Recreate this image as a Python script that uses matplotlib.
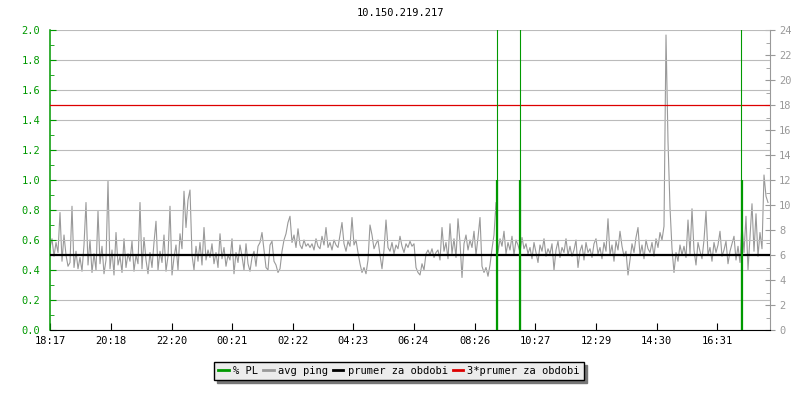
import numpy as np
import matplotlib
matplotlib.use("Agg")
import matplotlib.pyplot as plt
from matplotlib.lines import Line2D

# hodnoty
title = "10.150.219.217"
start_time = "18:17"
tick_labels = ["18:17", "20:18", "22:20", "00:21", "02:22", "04:23",
               "06:24", "08:26", "10:27", "12:29", "14:30", "16:31"]
sample_step = 4  # minuty mezi vzorky

# avg ping [ms], jeden vzorek za 4 minuty
avg_ping = [
    6.6, 7.3, 5.9, 7.0, 6.2, 9.4, 5.5, 7.6, 6.0, 5.1,
    5.4, 9.9, 5.0, 6.3, 4.9, 5.8, 4.7, 6.8, 10.2, 5.2,
    7.2, 4.6, 6.1, 4.8, 9.5, 5.3, 6.7, 4.5, 5.6, 11.9,
    4.9, 6.4, 4.4, 7.8, 5.2, 5.9, 4.6, 7.3, 5.0, 6.1,
    5.5, 7.1, 4.7, 6.0, 5.3, 10.2, 4.9, 7.4, 5.6, 4.5,
    6.2, 5.0, 7.0, 8.7, 4.8, 6.3, 5.4, 7.6, 4.7, 5.9,
    9.9, 4.4, 5.8, 6.8, 4.8, 7.7, 6.5, 11.1, 8.2, 10.4,
    11.2, 6.0, 4.8, 6.7, 5.5, 7.0, 5.2, 8.2, 5.6, 6.4,
    5.8, 6.9, 5.3, 6.2, 5.0, 7.7, 5.7, 6.6, 5.1, 6.0,
    5.6, 7.3, 4.5, 6.2, 5.4, 6.8, 5.9, 4.8, 6.9, 5.3,
    4.7, 5.8, 6.3, 5.1, 6.7, 7.0, 7.8, 6.4, 5.0, 4.8,
    6.8, 7.1, 5.5, 5.2, 4.6, 4.9, 6.3, 7.2, 7.7, 8.6,
    9.1, 7.0, 7.6, 6.6, 8.1, 6.8, 6.5, 7.2, 6.7, 6.9,
    6.6, 6.9, 6.4, 7.3, 6.7, 6.5, 7.5, 6.8, 8.2, 6.6,
    7.0, 6.4, 7.2, 6.8, 6.6, 7.6, 8.6, 6.9, 6.3, 7.1,
    6.7, 9.0, 6.8, 7.2, 6.2, 5.3, 4.6, 5.0, 4.5, 5.6,
    8.4, 7.6, 6.5, 6.9, 7.2, 6.0, 4.9, 6.4, 8.8, 6.6,
    6.3, 7.0, 6.1, 6.8, 6.5, 7.5, 6.7, 6.2, 6.9, 6.6,
    7.1, 6.7, 6.9, 5.0, 4.6, 4.4, 5.3, 4.8, 6.1, 6.4,
    6.0, 6.5, 5.8, 6.2, 6.4, 5.6, 8.2, 6.3, 7.0, 5.7,
    8.5, 6.1, 7.3, 5.8, 8.9, 7.0, 4.2, 6.9, 7.6, 6.4,
    7.2, 6.6, 7.9, 6.0, 7.4, 9.0, 5.1, 4.6, 5.0, 4.3,
    5.2, 6.5, 7.6, 10.2, 6.2, 7.3, 6.7, 7.9, 6.1, 7.0,
    6.4, 7.5, 6.0, 7.2, 6.8, 6.2, 7.4, 6.5, 6.9, 6.1,
    6.6, 5.7, 7.0, 6.2, 5.4, 6.8, 6.3, 7.3, 5.9, 6.5,
    6.1, 6.9, 4.8, 6.4, 7.1, 5.8, 6.6, 6.2, 7.3, 6.0,
    6.7, 5.9, 6.4, 7.2, 5.0, 6.3, 6.8, 5.6, 7.0, 6.2,
    6.5, 5.8, 6.9, 7.3, 6.1, 6.6, 5.7, 7.0, 6.3, 8.9,
    6.0, 6.8, 5.5, 7.1, 6.4, 7.9, 6.7, 5.9, 6.3, 4.4,
    5.6, 6.9, 6.2, 7.4, 8.2, 6.0, 6.8, 5.7, 7.2, 6.5,
    6.2, 7.0, 5.9, 7.3, 6.6, 7.8, 7.2, 8.3, 23.6, 15.1,
    9.8, 6.5, 4.6, 6.2, 5.5, 6.8, 6.0, 6.7, 5.8, 8.8,
    6.1, 9.7, 6.4, 5.2, 7.0, 6.3, 5.7, 7.2, 9.5, 6.0,
    6.6, 5.5, 7.0, 6.2, 6.8, 7.9, 5.9, 6.4, 7.1, 5.3,
    6.3, 6.9, 7.5, 5.6, 6.7, 5.4, 8.5, 6.2, 9.1, 4.8,
    7.4, 10.1, 6.3, 9.3, 5.9, 7.8, 6.5, 12.4, 10.7, 10.2,
]

# ztrata paketu
pl_times = ["09:10", "09:56", "17:19"]
pl_level = [1.0, 1.0, 1.0]
pl_peak = [100.0, 100.0, 100.0]

prumer_ms = 6.0
ping_scale = 12.0  # 2.0 na leve ose = 24 ms

GREEN = "#009900"
GREY = "#999999"


def to_minutes(t):
    h, m = map(int, t.split(":"))
    h0, m0 = map(int, start_time.split(":"))
    return ((h * 60 + m) - (h0 * 60 + m0)) % 1440


plt.rcParams["font.family"] = ["DejaVu Sans Mono"]
plt.rcParams["font.size"] = 7.5

fig = plt.figure(figsize=(8, 4), dpi=100)
ax = fig.add_axes([50 / 800, 70 / 400, 720 / 800, 300 / 400])
ax2 = ax.twinx()
ax.set_zorder(ax2.get_zorder() + 1)
ax.patch.set_visible(False)

minutes = np.arange(len(avg_ping)) * sample_step
ax2.plot(minutes, avg_ping, color=GREY, lw=0.8)

ax.axhline(prumer_ms / ping_scale, color="black", lw=1.6, zorder=4)
ax.axhline(3 * prumer_ms / ping_scale, color="#dd0000", lw=0.9, zorder=4)

pl_min = [to_minutes(t) for t in pl_times]
ax.vlines(pl_min, 0, pl_peak, color=GREEN, lw=0.8, zorder=5)
ax.vlines([m + 1 for m in pl_min], 0, pl_level, color=GREEN, lw=1.6, zorder=5)

ax.set_xlim(0, 1440)
ax.set_ylim(0, 2.0)
ax2.set_ylim(0, 24)

ax.set_xticks([to_minutes(t) for t in tick_labels])
ax.set_xticklabels(tick_labels)
ax.set_yticks(np.arange(0, 2.01, 0.2))
ax.set_yticks(np.arange(0, 2.01, 0.1), minor=True)
ax.yaxis.set_major_formatter(matplotlib.ticker.FormatStrFormatter("%.1f"))
ax2.set_yticks(np.arange(0, 25, 2))
ax2.set_yticks(np.arange(0, 25, 1), minor=True)

ax.grid(axis="y", color="#bbbbbb", lw=0.8)
ax.tick_params(axis="y", which="major", direction="in", length=4, color=GREEN,
               labelcolor=GREEN, pad=7, right=False)
ax.tick_params(axis="y", which="minor", direction="in", length=3, color=GREEN, right=False)
ax.tick_params(axis="x", direction="in", length=5, color="black", pad=4, top=False)
ax2.tick_params(axis="y", which="major", direction="inout", length=7, color=GREY,
                labelcolor=GREY, pad=3)
ax2.tick_params(axis="y", which="minor", direction="in", length=3, color=GREY)

for a in (ax, ax2):
    a.spines["top"].set_visible(False)
ax.spines["left"].set_color(GREEN)
ax.spines["left"].set_linewidth(1.1)
ax.spines["right"].set_visible(False)
ax.spines["bottom"].set_color("black")
ax2.spines["left"].set_visible(False)
ax2.spines["bottom"].set_visible(False)
ax2.spines["right"].set_color(GREY)

fig.text(0.5, 1 - 13 / 400, title, ha="center", va="center", fontsize=7.5)

handles = [
    Line2D([], [], color=GREEN, lw=2),
    Line2D([], [], color=GREY, lw=2),
    Line2D([], [], color="black", lw=2),
    Line2D([], [], color="#dd0000", lw=2),
]
labels = ["% PL", "avg ping", "prumer za obdobi", "3*prumer za obdobi"]
leg = fig.legend(handles, labels, loc="center", bbox_to_anchor=(0.499, 1 - 371 / 400),
                 ncol=4, frameon=True, fancybox=False,
                 shadow={"color": "#777777", "alpha": 1, "ox": 2, "oy": -2},
                 edgecolor="black", facecolor="#ececec", framealpha=1,
                 handlelength=1.0, handletextpad=0.4, columnspacing=0.5,
                 borderpad=0.4, borderaxespad=0)
leg.get_frame().set_linewidth(1.0)

plt.savefig("out.png", dpi=100)
